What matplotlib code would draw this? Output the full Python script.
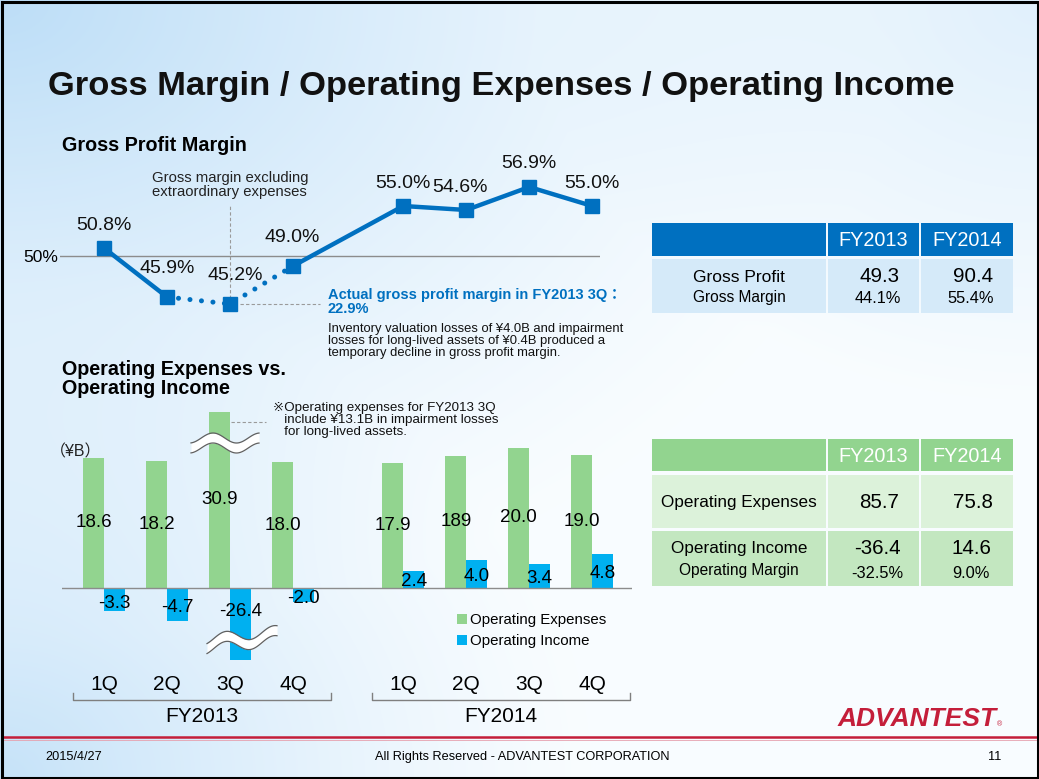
import numpy as np
import matplotlib
matplotlib.use('Agg')
import matplotlib.pyplot as plt
from matplotlib.patches import Rectangle

plt.rcParams['font.family'] = ['Liberation Sans', 'DejaVu Sans', 'Noto Sans CJK JP']

# ---------------- data ----------------
quarters = ['1Q', '2Q', '3Q', '4Q', '1Q', '2Q', '3Q', '4Q']
fiscal_years = ['FY2013', 'FY2014']
gross_margin = [50.8, 45.9, 45.2, 49.0, 55.0, 54.6, 56.9, 55.0]
gross_margin_labels = ['50.8%', '45.9%', '45.2%', '49.0%', '55.0%', '54.6%', '56.9%', '55.0%']
op_expenses = [18.6, 18.2, 30.9, 18.0, 17.9, 18.9, 20.0, 19.0]
op_expense_labels = ['18.6', '18.2', '30.9', '18.0', '17.9', '189', '20.0', '19.0']
op_income = [-3.3, -4.7, -26.4, -2.0, 2.4, 4.0, 3.4, 4.8]
op_income_labels = ['-3.3', '-4.7', '-26.4', '-2.0', '2.4', '4.0', '3.4', '4.8']

gp_table_header = ['FY2013', 'FY2014']
gp_table_rows = ['Gross Profit', 'Gross Margin']
gross_profit = ['49.3', '90.4']
gross_margin_year = ['44.1%', '55.4%']

op_table_header = ['FY2013', 'FY2014']
op_table_rows = ['Operating Expenses', 'Operating Income', 'Operating Margin']
op_expenses_year = ['85.7', '75.8']
op_income_year = ['-36.4', '14.6']
op_margin_year = ['-32.5%', '9.0%']

# ---------------- layout helpers ----------------
W, H = 1039, 779
fig = plt.figure(figsize=(W / 100, H / 100), dpi=100)

def rect(x0, y0, x1, y1):
    return [x0 / W, 1 - y1 / H, (x1 - x0) / W, (y1 - y0) / H]

BLUE = '#0070C0'
GREEN = '#92D48F'
CYAN = '#00B0F0'
CRIMSON = '#C41E3A'

# background axes (pixel coordinates)
bg = fig.add_axes([0, 0, 1, 1])
bg.set_xlim(0, W)
bg.set_ylim(H, 0)
bg.axis('off')
yy, xx = np.mgrid[0:H, 0:W]
w1 = np.clip(1 - np.hypot(xx, yy * 1.4) / 900, 0, 1) ** 1.3
w2 = np.clip(1 - np.hypot(xx * 1.1, (H - yy) * 1.3) / 650, 0, 1) ** 1.3
w3 = np.clip(1 - np.hypot((W - xx) * 1.2, yy * 1.5) / 600, 0, 1) * 0.4
wt = np.clip(w1 + w2 * 0.85 + w3, 0, 1)
base = np.array([0.975, 0.99, 1.0])
tint = np.array([0.74, 0.87, 0.97])
img = base[None, None, :] * (1 - wt[..., None]) + tint[None, None, :] * wt[..., None]
bg.imshow(img, extent=[0, W, H, 0], aspect='auto', zorder=0)

# border
bg.add_patch(Rectangle((1.5, 1.5), W - 3, H - 3, fill=False, ec='black', lw=2.2, zorder=5))

# title and headings
bg.text(48, 86, 'Gross Margin / Operating Expenses / Operating Income', fontsize=24.8,
        fontweight='bold', va='center', ha='left', color='#111111')
bg.text(62, 145, 'Gross Profit Margin', fontsize=14.2, fontweight='bold', va='center')
bg.text(62, 379, 'Operating Expenses vs.\nOperating Income', fontsize=14.2, fontweight='bold',
        va='center', linespacing=0.95)

# ---------------- line chart ----------------
pos = np.r_[np.arange(4), np.arange(4) + 4.75]
X0, DX = 104, 63  # pixel of pos 0, pixels per unit


def px_to_pos(px):
    return (px - X0) / DX

ax1 = fig.add_axes(rect(60, 150, 600, 320))
ax1.patch.set_alpha(0)
ax1.set_xlim(px_to_pos(60), px_to_pos(600))
ax1.set_ylim(50 - (320 - 256) / 10, 50 + (256 - 150) / 10)
for s in ax1.spines.values():
    s.set_visible(False)
ax1.set_xticks([])
ax1.set_yticks([50])
ax1.set_yticklabels(['50%'], fontsize=12.5)
ax1.tick_params(axis='y', length=0, pad=1)
ax1.axhline(50, color='#8c8c8c', lw=1.0, zorder=1)

gm = np.array(gross_margin)
ax1.plot(pos[0:2], gm[0:2], color=BLUE, lw=3.2, zorder=3, solid_capstyle='round')
ax1.plot(pos[1:4], gm[1:4], color=BLUE, lw=3.6, zorder=3,
         linestyle=(0, (0.01, 2.3)), dash_capstyle='round')
ax1.plot(pos[3:], gm[3:], color=BLUE, lw=3.2, zorder=3)
ax1.plot(pos, gm, 's', color=BLUE, ms=10.5, zorder=4)

gm_label_offsets = [(0, 22), (0, 29), (5, 29), (-1, 28), (0, 23), (-6, 23), (0, 24), (0, 23)]
for p, v, lab, off in zip(pos, gm, gross_margin_labels, gm_label_offsets):
    ax1.annotate(lab, (p, v), xytext=off, textcoords='offset pixels',
                 ha='center', va='center', fontsize=14, color='#111111')

# annotation guide lines
ax1.plot([pos[2], pos[2]], [gm[2], 50 + (256 - 205) / 10], ls=(0, (3, 2)), color='#9a9a9a', lw=0.8, zorder=2)
ax1.plot([px_to_pos(240), px_to_pos(320)], [gm[2], gm[2]], ls=(0, (3, 2)), color='#9a9a9a', lw=0.8, zorder=2)

bg.text(152, 185, 'Gross margin excluding\nextraordinary expenses', fontsize=10.7, va='center',
        ha='left', linespacing=1.0, color='#222222')
bg.text(328, 302, 'Actual gross profit margin in FY2013 3Q：\n22.9%', fontsize=10.5,
        fontweight='bold', color=BLUE, va='center', ha='left', linespacing=1.0)
bg.text(328, 341, 'Inventory valuation losses of ¥4.0B and impairment\n'
        'losses for long-lived assets of ¥0.4B produced a\n'
        'temporary decline in gross profit margin.', fontsize=9.4, va='center', ha='left',
        linespacing=0.98, color='#111111')

# ---------------- bar chart ----------------
BASE = 588
ax2 = fig.add_axes(rect(62, 400, 632, 730))
ax2.patch.set_alpha(0)
ax2.set_xlim(px_to_pos(62), px_to_pos(632))
ax2.set_ylim(-(730 - BASE) / 7, (BASE - 400) / 7)
ax2.axis('off')

bw = 21 / DX
exp_cap = (BASE - 412) / 7
inc_cap = -(660 - BASE) / 7
exp = np.array(op_expenses)
inc = np.array(op_income)
exp_disp = np.minimum(exp, exp_cap)
inc_disp = np.maximum(inc, inc_cap)
b1 = ax2.bar(pos - bw / 2, exp_disp, width=bw, color=GREEN, zorder=2, label='Operating Expenses')
b2 = ax2.bar(pos + bw / 2, inc_disp, width=bw, color=CYAN, zorder=2, label='Operating Income')
ax2.axhline(0, color='#8c8c8c', lw=1.0, zorder=3)

for p, v, lab in zip(pos, exp_disp, op_expense_labels):
    ax2.text(p - bw / 2, v / 2, lab, ha='center', va='center', fontsize=13.5, zorder=5)
for p, v, lab in zip(pos, inc_disp, op_income_labels):
    y = v / 2 - 0.3 if v > 0 else max(v / 2 - 0.5, -3.4)
    ax2.text(p + bw / 2, y, lab, ha='center', va='center', fontsize=13.5, zorder=5)


def break_mark(xc_px, yc_px, half_w, amp, gap, period, xpeak_px, slope):
    xs = np.linspace(xc_px - half_w, xc_px + half_w, 120)
    ys = yc_px - amp * np.cos(2 * np.pi * (xs - xpeak_px) / period) - slope * (xs - xc_px)
    xd = px_to_pos(xs)
    top = (BASE - (ys - gap / 2)) / 7
    bot = (BASE - (ys + gap / 2)) / 7
    ax2.fill_between(xd, bot, top, color='white', zorder=4, lw=0)
    ax2.plot(xd, top, color='#606060', lw=0.9, zorder=4)
    ax2.plot(xd, bot, color='#606060', lw=0.9, zorder=4)

break_mark(225, 443, 34, 5, 10, 47, 213, 0.0)
break_mark(242, 640, 35, 5.5, 10, 48, 226, 0.12)

# note for FY2013 3Q
ax2.plot([pos[2] + 1 / DX, px_to_pos(266)], [(BASE - 422) / 7] * 2, ls=(0, (3, 2)),
         color='#9a9a9a', lw=0.8, zorder=2)
bg.text(273, 420, '※Operating expenses for FY2013 3Q\n   include ¥13.1B in impairment losses\n   for long-lived assets.',
        fontsize=9.6, va='center', ha='left', linespacing=0.95, color='#111111')
bg.text(50, 452, '（¥B）', fontsize=11.5, va='center', ha='left', color='#222222')

# quarter labels and fiscal year brackets
for p, q in zip(pos, quarters):
    ax2.text(p, -(685 - BASE) / 7, q, ha='center', va='center', fontsize=15)
groups = [pos[:4], pos[4:]]
for g, fy in zip(groups, fiscal_years):
    x_l, x_r = g[0] - 0.49, g[-1] + 0.6
    yb = -(700 - BASE) / 7
    ax2.plot([x_l, x_l, x_r, x_r], [yb + 1.0, yb, yb, yb + 1.0], color='#7f7f7f', lw=1.0,
             clip_on=False)
    ax2.text((x_l + x_r) / 2, -(716 - BASE) / 7, fy, ha='center', va='center', fontsize=15)

ax2.legend(handles=[b1, b2], loc='upper left', bbox_to_anchor=(457 / W, 1 - 613 / H),
           bbox_transform=fig.transFigure, frameon=False, fontsize=10.8,
           handlelength=0.65, handleheight=0.65, handletextpad=0.25, labelspacing=0.5,
           borderaxespad=0, borderpad=0)

# ---------------- tables ----------------
cols = [(652, 826), (828, 919), (921, 1013)]

def cell(x0, x1, y0, y1, color):
    bg.add_patch(Rectangle((x0, y0), x1 - x0, y1 - y0, color=color, zorder=2, lw=0))

# gross profit table
for (a, b) in cols:
    cell(a, b, 223, 256, BLUE)
    cell(a, b, 259, 313, '#D5EAF9')
for (a, b), hdr in zip(cols[1:], gp_table_header):
    bg.text((a + b) / 2, 240, hdr, color='white', fontsize=14.3, ha='center', va='center', zorder=3)
bg.text(739, 277, gp_table_rows[0], fontsize=12.5, ha='center', va='center', zorder=3)
bg.text(739, 297, gp_table_rows[1], fontsize=11.2, ha='center', va='center', zorder=3)
for (a, b), v1, v2 in zip(cols[1:], gross_profit, gross_margin_year):
    bg.text((a + b) / 2 + 6, 276, v1, fontsize=14.8, ha='center', va='center', zorder=3)
    bg.text((a + b) / 2 + 4, 298, v2, fontsize=11.8, ha='center', va='center', zorder=3)

# operating table
for (a, b) in cols:
    cell(a, b, 439, 471, GREEN)
    cell(a, b, 475, 528, '#DCF2DA')
    cell(a, b, 531, 586, '#C3E7C0')
for (a, b), hdr in zip(cols[1:], op_table_header):
    bg.text((a + b) / 2, 456, hdr, color='white', fontsize=14.3, ha='center', va='center', zorder=3)
bg.text(739, 502, op_table_rows[0], fontsize=12.3, ha='center', va='center', zorder=3)
bg.text(739, 549, op_table_rows[1], fontsize=12.3, ha='center', va='center', zorder=3)
bg.text(739, 570, op_table_rows[2], fontsize=11.2, ha='center', va='center', zorder=3)
for (a, b), v1, v2, v3 in zip(cols[1:], op_expenses_year, op_income_year, op_margin_year):
    bg.text((a + b) / 2 + 6, 502, v1, fontsize=14.8, ha='center', va='center', zorder=3)
    bg.text((a + b) / 2 + 4, 549, v2, fontsize=14.8, ha='center', va='center', zorder=3)
    bg.text((a + b) / 2 + 4, 573, v3, fontsize=11.8, ha='center', va='center', zorder=3)

# ---------------- footer ----------------
bg.plot([3, W - 3], [737, 737], color=CRIMSON, lw=1.8, zorder=3)
bg.plot([3, W - 3], [740, 740], color='#e6a0ae', lw=0.6, zorder=3)
bg.text(997, 719, 'ADVANTEST', fontsize=19, fontweight='heavy', fontstyle='italic',
        color=CRIMSON, ha='right', va='center', zorder=3)
bg.text(997, 725, '®', fontsize=5, color=CRIMSON, ha='left', va='center', zorder=3)
bg.text(45, 757, '2015/4/27', fontsize=9.2, ha='left', va='center', zorder=3)
bg.text(522, 757, 'All Rights Reserved - ADVANTEST CORPORATION', fontsize=9.2, ha='center', va='center', zorder=3)
bg.text(995, 757, '11', fontsize=9.2, ha='center', va='center', zorder=3)

fig.savefig('out.png', dpi=100)
